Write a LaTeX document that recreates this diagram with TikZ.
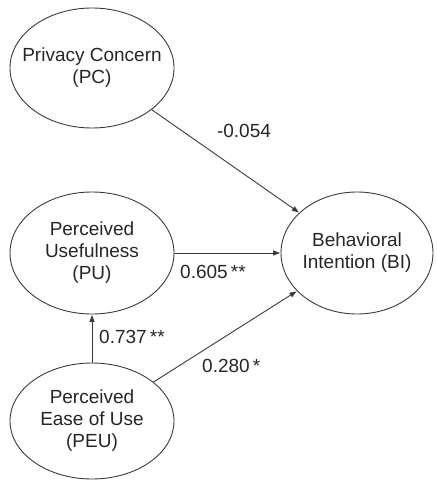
\documentclass[tikz,border=0pt]{standalone}
\usepackage{fontspec}
\setmainfont{Liberation Sans}
\usetikzlibrary{shapes.geometric,arrows.meta}
\definecolor{ink}{HTML}{262626}
\definecolor{linec}{HTML}{3A3A3A}
\tikzset{
  ell/.style={draw=linec, line width=0.9pt, ellipse, inner sep=0pt},
  txt/.style={align=center, text=ink, inner sep=0pt, font=\fontsize{19}{22}\selectfont},
  lbl/.style={text=ink, inner sep=0pt, font=\fontsize{19}{22}\selectfont},
  arr/.style={draw=linec, line width=0.9pt, -{Triangle[length=7pt,width=5pt]}, shorten >=0.5pt}
}
\begin{document}
\begin{tikzpicture}[x=1pt,y=-1pt]
\useasboundingbox (0,0) rectangle (436,481);
\node[ell, minimum width=164pt, minimum height=120pt] (pc) at (92,68) {};
\node[ell, minimum width=164pt, minimum height=122pt] (pu) at (92,253) {};
\node[ell, minimum width=152pt, minimum height=122pt] (bi) at (357,253) {};
\node[ell, minimum width=164pt, minimum height=116pt] (peu) at (92,421) {};
\node[txt] (pct) at (pc.center) {Privacy Concern\\(PC)};
\node[txt] (put) at (pu.center) {Perceived\\Usefulness\\(PU)};
\node[txt] (bit) at (bi.center) {Behavioral\\Intention (BI)};
\node[txt] (peut) at (peu.center) {Perceived\\Ease of Use\\(PEU)};
\draw[arr] (pc) -- (bi);
\draw[arr] (pu) -- (bi);
\draw[arr] (peu) -- (pu);
\draw[arr] (peu) -- (bi);
\node[lbl] (l1) at (244,131) {-0.054};
\node[lbl, anchor=west] (l2) at (180,272) {0.605\,**};
\node[lbl, anchor=west] (l3) at (99,337) {0.737\,**};
\node[lbl, anchor=west] (l4) at (202,366) {0.280\,*};
\end{tikzpicture}
\end{document}
